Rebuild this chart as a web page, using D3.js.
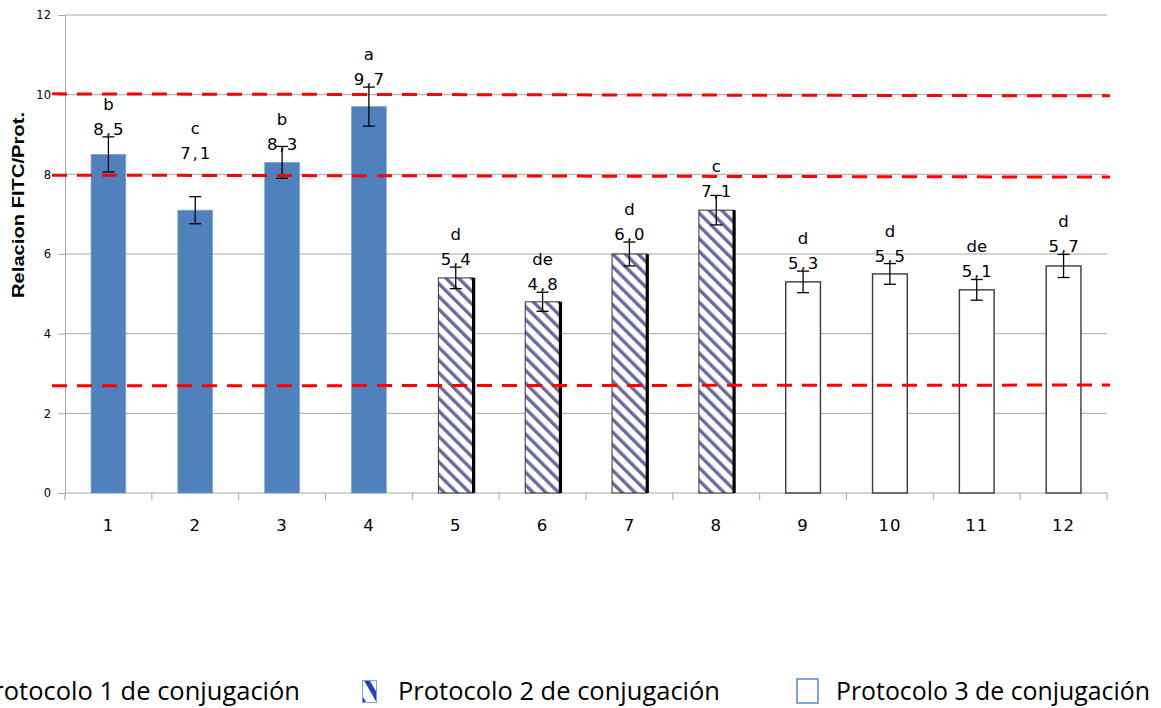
<!DOCTYPE html>
<html>
<head>
<meta charset="utf-8">
<script src="https://cdn.jsdelivr.net/npm/d3@7"></script>
<style>
  html, body { margin: 0; padding: 0; background: #fff; overflow: hidden; }
  svg { display: block; }
</style>
</head>
<body>
<svg id="chart" width="1161" height="708"></svg>
<script>
// Treatments 1-12, FITC/protein ratio with standard deviation and significance groups
const categories = ["1","2","3","4","5","6","7","8","9","10","11","12"];
const protocols  = [1,1,1,1,2,2,2,2,3,3,3,3];
const values     = [8.5, 7.1, 8.3, 9.7, 5.4, 4.8, 6.0, 7.1, 5.3, 5.5, 5.1, 5.7];
const errors     = [0.44, 0.34, 0.40, 0.49, 0.27, 0.24, 0.30, 0.37, 0.27, 0.26, 0.26, 0.29];
const groups     = ["b","c","b","a","d","de","d","c","d","d","de","d"];
const yTicks     = [0, 2, 4, 6, 8, 10, 12];
const legendLabels = ["Protocolo 1 de conjugación", "Protocolo 2 de conjugación", "Protocolo 3 de conjugación"];
// Reference levels (start and end value of each dashed line)
const refStart = [10.02, 7.98, 2.69];
const refEnd   = [9.97, 7.93, 2.71];

const svg = d3.select("#chart");
const plot = { left: 65, right: 1107, top: 15, bottom: 493 };

const x = d3.scaleBand().domain(categories).range([plot.left, plot.right])
  .paddingInner(0.6).paddingOuter(0.3);
const y = d3.scaleLinear().domain([0, 12]).range([plot.bottom, plot.top]);

// Hatch pattern for protocol 2 (stripes running top-left to bottom-right)
const defs = svg.append("defs");
const hatch = defs.append("pattern").attr("id", "hatch")
  .attr("patternUnits", "userSpaceOnUse").attr("width", 9).attr("height", 9)
  .attr("patternTransform", "rotate(-45)");
hatch.append("rect").attr("width", 9).attr("height", 9).attr("fill", "#fff");
hatch.append("rect").attr("x", 0).attr("width", 3.4).attr("height", 9).attr("fill", "#6a6aa0");

const hatchLegend = defs.append("pattern").attr("id", "hatchLegend")
  .attr("patternUnits", "userSpaceOnUse").attr("width", 14).attr("height", 14)
  .attr("patternTransform", "translate(366,684) rotate(-30)");
hatchLegend.append("rect").attr("width", 14).attr("height", 14).attr("fill", "#fff");
hatchLegend.append("rect").attr("x", 0).attr("width", 5).attr("height", 14).attr("fill", "#1c44b8");

// Gridlines
svg.append("g").selectAll("line").data(yTicks.filter(d => d > 0)).join("line")
  .attr("x1", plot.left).attr("x2", plot.right)
  .attr("y1", d => y(d)).attr("y2", d => y(d))
  .attr("stroke", "#a6a6a6").attr("stroke-width", 1);

// Y axis
const yAxis = svg.append("g").attr("transform", `translate(${plot.left},0)`)
  .call(d3.axisLeft(y).tickValues(yTicks).tickSize(7).tickPadding(7));
yAxis.select(".domain").attr("stroke", "#a6a6a6");
yAxis.selectAll(".tick line").attr("stroke", "#a6a6a6");
yAxis.selectAll(".tick text").attr("font-family", "DejaVu Sans, Verdana, sans-serif")
  .attr("font-size", 11.5).attr("fill", "#000");

// X axis
const xAxisG = svg.append("g").attr("transform", `translate(0,${plot.bottom})`);
xAxisG.append("line").attr("x1", plot.left).attr("x2", plot.right)
  .attr("stroke", "#a6a6a6");
const step = x.step();
const boundaries = d3.range(categories.length + 1).map(i => plot.left + i * step);
xAxisG.selectAll("line.tk").data(boundaries).join("line").attr("class", "tk")
  .attr("x1", d => d).attr("x2", d => d).attr("y1", 0).attr("y2", 7)
  .attr("stroke", "#a6a6a6");
xAxisG.selectAll("text").data(categories).join("text")
  .attr("x", d => x(d) + x.bandwidth() / 2).attr("y", 38)
  .attr("text-anchor", "middle")
  .attr("font-family", "DejaVu Sans, Verdana, sans-serif")
  .attr("font-size", 16.5).attr("letter-spacing", 1).attr("fill", "#000")
  .text(d => d);

// Y axis title
svg.append("text")
  .attr("transform", "translate(24,205) rotate(-90)")
  .attr("text-anchor", "middle")
  .attr("font-family", "Liberation Sans, Arial, sans-serif")
  .attr("font-weight", "bold").attr("font-size", 17)
  .attr("textLength", 186).attr("lengthAdjust", "spacingAndGlyphs")
  .text("Relacion FITC/Prot.");

const rows = categories.map((c, i) => ({
  c, p: protocols[i], v: values[i], e: errors[i], g: groups[i]
}));

// Bars
const bars = svg.append("g");
rows.forEach(d => {
  const bx = x(d.c), bw = x.bandwidth(), by = y(d.v), bh = y(0) - y(d.v);
  if (d.p === 1) {
    bars.append("rect").attr("x", bx).attr("y", by).attr("width", bw).attr("height", bh)
      .attr("fill", "#4f81bd").attr("stroke", "#7ea2d2").attr("stroke-width", 0.8);
  } else if (d.p === 2) {
    bars.append("rect").attr("x", bx).attr("y", by).attr("width", bw).attr("height", bh)
      .attr("fill", "url(#hatch)").attr("stroke", "#333").attr("stroke-width", 1);
    bars.append("line").attr("x1", bx + bw + 0.5).attr("x2", bx + bw + 0.5)
      .attr("y1", by).attr("y2", y(0))
      .attr("stroke", "#000").attr("stroke-width", 3.2);
  } else {
    bars.append("rect").attr("x", bx).attr("y", by).attr("width", bw).attr("height", bh)
      .attr("fill", "#fff").attr("stroke", "#3a3a3a").attr("stroke-width", 1.4);
  }
});

// Error bars
const eb = svg.append("g").attr("stroke", "#000").attr("stroke-width", 1.3);
rows.forEach(d => {
  const cx = x(d.c) + x.bandwidth() / 2;
  eb.append("line").attr("x1", cx).attr("x2", cx).attr("y1", y(d.v + d.e)).attr("y2", y(d.v - d.e));
  [d.v + d.e, d.v - d.e].forEach(v =>
    eb.append("line").attr("x1", cx - 6).attr("x2", cx + 6).attr("y1", y(v)).attr("y2", y(v)));
});

// Value and group labels, sitting just above each error bar
const labelShift = { "2": -36, "3": 6, "8": 4 };
const labels = svg.append("g")
  .attr("font-family", "DejaVu Sans, Verdana, sans-serif")
  .attr("font-size", 16.5).attr("fill", "#000").attr("text-anchor", "middle");
rows.forEach(d => {
  const cx = x(d.c) + x.bandwidth() / 2;
  const base = y(d.v + d.e) - 2 + (labelShift[d.c] || 0);
  labels.append("text").attr("x", cx + 1).attr("y", base)
    .attr("letter-spacing", 2).text(d3.format(".1f")(d.v).replace(".", ","));
  labels.append("text").attr("x", cx).attr("y", base - 25).text(d.g);
});

// Red dashed reference lines
svg.append("g").selectAll("line").data(refStart).join("line")
  .attr("x1", plot.left - 13).attr("x2", plot.right + 3)
  .attr("y1", d => y(d)).attr("y2", (d, i) => y(refEnd[i]))
  .attr("stroke", "#ff0000").attr("stroke-width", 3)
  .attr("stroke-dasharray", "15,10");

// Legend
const legend = svg.append("g")
  .attr("font-family", "Liberation Sans Narrow, Open Sans, sans-serif")
  .attr("font-size", 25).attr("fill", "#000");
const legendText = [
  { x: -22, w: 322 }, { x: 398, w: 322 }, { x: 836, w: 314 }
];
legendLabels.forEach((t, i) => {
  legend.append("text").attr("x", legendText[i].x).attr("y", 700)
    .attr("textLength", legendText[i].w).attr("lengthAdjust", "spacingAndGlyphs")
    .text(t);
});
legend.append("rect").attr("x", 362.5).attr("y", 680.5).attr("width", 14).attr("height", 22)
  .attr("fill", "url(#hatchLegend)").attr("stroke", "#7ea2d8").attr("stroke-width", 1);
legend.append("rect").attr("x", 797).attr("y", 679).attr("width", 21).attr("height", 24)
  .attr("fill", "#fff").attr("stroke", "#6f9ad8").attr("stroke-width", 1.8);
</script>
</body>
</html>
